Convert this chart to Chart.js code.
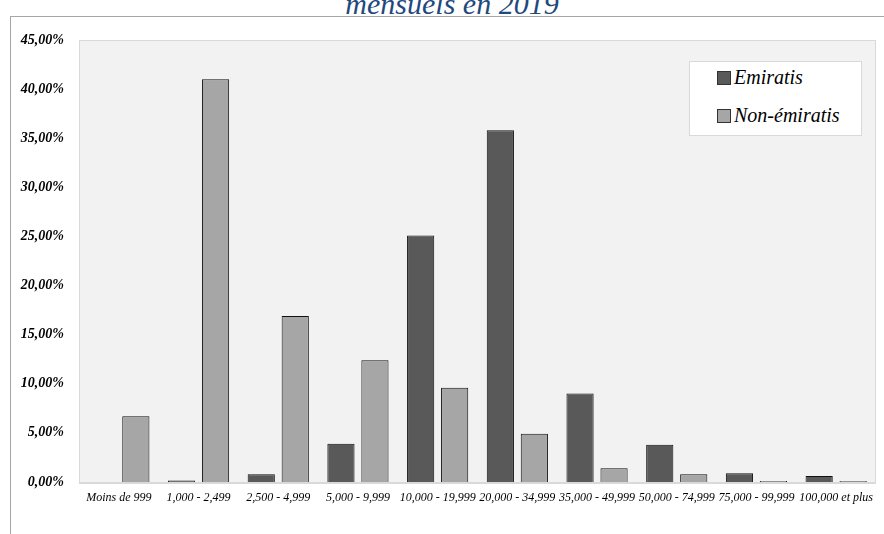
<!DOCTYPE html>
<html>
<head>
<meta charset="utf-8">
<script src="https://cdn.jsdelivr.net/npm/chart.js@4"></script>
<style>
  body { margin: 0; background: #fff; overflow: hidden; }
  #wrap { position: relative; width: 884px; height: 534px; overflow: hidden; }
  #frame { position: absolute; left: 10px; top: 16px; width: 1000px; height: 600px; border-left: 1px solid #a6a6a6; border-top: 1px solid #a6a6a6; }
  #title { position: absolute; left: 0; width: 904px; top: -11px; text-align: center; font: italic 30px "Liberation Serif", serif; line-height: 30px; color: #1f497d; }
  #chart { position: absolute; left: 0; top: 0; }
  #legend { position: absolute; left: 689px; top: 61px; width: 173px; height: 75px; background: #fff; border: 1px solid #d9d9d9; box-sizing: border-box; }
  .item { position: absolute; left: 27px; font: italic 20px "Liberation Serif", serif; color: #000; white-space: nowrap; }
  .swatch { display: inline-block; width: 12px; height: 12px; border: 1px solid #333; vertical-align: -1px; margin-right: 3px; }
</style>
</head>
<body>
<div id="wrap">
  <div id="frame"></div>
  <div id="title">mensuels en 2019</div>
  <canvas id="chart" width="884" height="534"></canvas>
  <div id="legend"></div>
</div>
<script>
// --- THE DATA ---
const categories = ['Moins de 999', '1,000 - 2,499', '2,500 - 4,999', '5,000 - 9,999', '10,000 - 19,999',
                    '20,000 - 34,999', '35,000 - 49,999', '50,000 - 74,999', '75,000 - 99,999', '100,000 et plus'];
const emiratis    = [0, 0.15, 0.8, 3.9, 25.1, 35.8, 9.0, 3.8, 0.9, 0.6];
const nonEmiratis = [6.7, 41.0, 16.9, 12.4, 9.6, 4.9, 1.4, 0.8, 0.1, 0.1];
const seriesNames = ['Emiratis', 'Non-émiratis'];
const seriesColors = ['#595959', '#a6a6a6'];
const yTicks = [0, 5, 10, 15, 20, 25, 30, 35, 40, 45];

// percent label like "45,00%"
function pct(v) {
    return v.toFixed(2).replace('.', ',') + '%';
}

// grey plot background + light border
const plotBg = {
    id: 'plotBg',
    beforeDraw(chart) {
        const a = chart.chartArea, c = chart.ctx;
        c.save();
        c.fillStyle = '#f2f2f2';
        c.fillRect(a.left, a.top, a.right - a.left, a.bottom - a.top);
        c.strokeStyle = '#d9d9d9';
        c.lineWidth = 1;
        c.strokeRect(a.left + 0.5, a.top + 0.5, a.right - a.left - 1, a.bottom - a.top);
        c.lineWidth = 2;
        c.beginPath();
        c.moveTo(a.left, a.bottom + 1);
        c.lineTo(a.right, a.bottom + 1);
        c.stroke();
        c.restore();
    }
};

const chart = new Chart(document.getElementById('chart'), {
    type: 'bar',
    data: {
        labels: categories,
        datasets: [
            { label: seriesNames[0], data: emiratis, backgroundColor: seriesColors[0] },
            { label: seriesNames[1], data: nonEmiratis, backgroundColor: seriesColors[1] }
        ]
    },
    options: {
        responsive: false,
        animation: false,
        layout: { padding: { top: 40, right: 8, left: 0, bottom: 0 } },
        datasets: {
            bar: { categoryPercentage: 0.853, barPercentage: 0.8, borderColor: '#111', borderWidth: 1 }
        },
        plugins: {
            legend: { display: false },
            tooltip: { enabled: false }
        },
        scales: {
            x: {
                grid: { display: false, drawTicks: false },
                border: { display: false },
                ticks: {
                    padding: 9, maxRotation: 0, autoSkip: false, color: '#000',
                    font: { family: 'Liberation Serif', style: 'italic', size: 12 }
                },
                afterFit(s) { s.height = 52; }
            },
            y: {
                min: 0, max: 45,
                afterBuildTicks(s) { s.ticks = yTicks.map(v => ({ value: v })); },
                grid: { display: false, drawTicks: false },
                border: { display: false },
                ticks: {
                    padding: 15, color: '#000',
                    font: { family: 'Liberation Serif', style: 'italic', weight: 'bold', size: 14 },
                    callback: v => pct(v)
                },
                afterFit(s) { s.width = 79; }
            }
        }
    },
    plugins: [plotBg]
});

// --- LEGEND (html, built from the datasets) ---
const legendBox = document.getElementById('legend');
chart.data.datasets.forEach((ds, i) => {
    legendBox.innerHTML += `<div class="item" style="top:${4 + i * 38}px"><span class="swatch" style="background:${ds.backgroundColor}"></span>${ds.label}</div>`;
});
</script>
</body>
</html>
